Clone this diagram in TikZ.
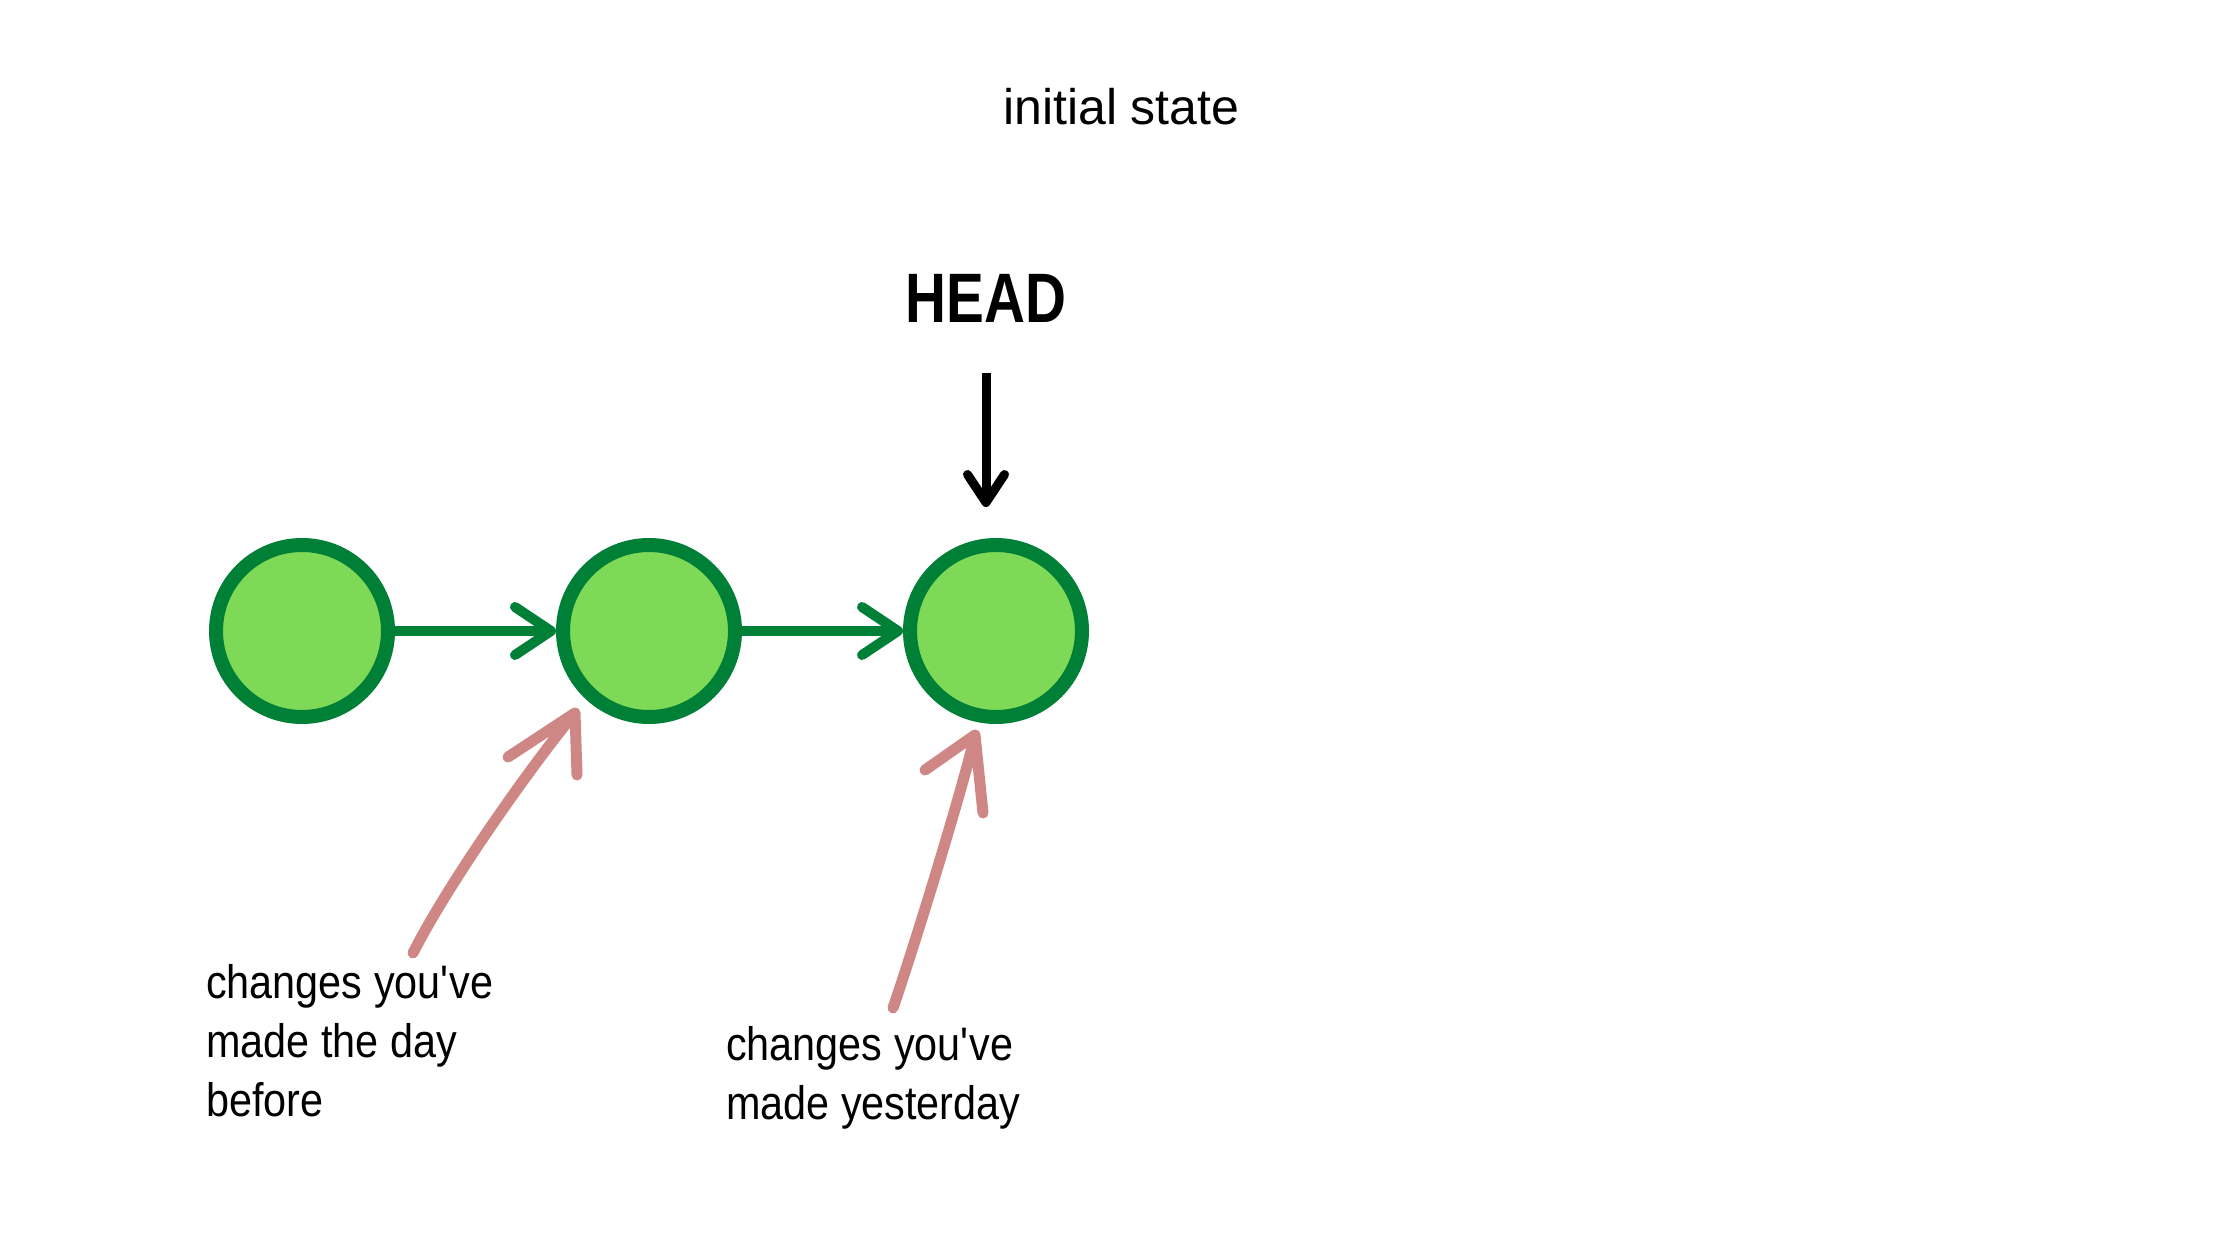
\documentclass[tikz,border=0pt]{standalone}
\usepackage{fontspec}
\setmainfont{Liberation Sans}
\newfontfamily\notefont[FakeStretch=0.88]{Liberation Sans}
\newfontfamily\headfont[FakeStretch=0.81]{Liberation Sans}
\usepackage{tikz}
\usetikzlibrary{arrows.meta}
\usetikzlibrary{positioning}

\definecolor{commitfill}{RGB}{126,217,87}
\definecolor{commitline}{RGB}{0,128,55}
\definecolor{notepink}{RGB}{207,135,134}

\begin{document}
\begin{tikzpicture}[x=1pt,y=-1pt,every node/.style = {inner sep=0pt},
					node distance=161pt]

\tikzstyle{commit} = [circle, draw=commitline, fill=commitfill, line width=14pt, minimum size=172pt, outer sep=7pt]
\tikzstyle{next_arrow} = [draw=commitline, line width=10pt, -{Straight Barb[length=36pt,width=48pt,round]}]
\tikzstyle{head_arrow} = [line width=9pt, -{Straight Barb[length=28pt,width=37pt,round]}]
\tikzstyle{note} = [align=left, anchor=north west, font=\notefont\fontsize{47pt}{59pt}\selectfont]
\tikzstyle{note_arrow} = [draw=notepink, line width=11pt, line cap=round, line join=round]

\useasboundingbox (0,0) rectangle (2240,1260);

\node[anchor=base west, font=\fontsize{50pt}{60pt}\selectfont] (title) at (1003,125) {initial state};

\node[commit] (c1) at (302,631) {};
\node[commit, right=of c1] (c2) {};
\node[commit, right=of c2] (c3) {};

\node[anchor=base, font=\headfont\bfseries\fontsize{70pt}{80pt}\selectfont] (head) at (986,322) {HEAD};

\draw[next_arrow] (c1) -- (c2);
\draw[next_arrow] (c2) -- (c3);
\draw[head_arrow, shorten <=51pt, shorten >=31pt] (head.south) -- (head.south |- c3.north);

\node[note] (before) at (206,964) {changes you\textquotesingle ve\\made the day\\before};
\node[note] (yesterday) at (726,1026) {changes you\textquotesingle ve\\made yesterday};

% hand drawn pointers
\coordinate (tail1) at ([shift={(207,-11)}]before.north west);
\coordinate (tip1) at ([shift={(-74,82)}]c2.center);
\coordinate (tail2) at ([shift={(167,-18)}]yesterday.north west);
\coordinate (tip2) at ([shift={(-21,104)}]c3.center);

\draw[note_arrow] (tail1) .. controls +(37,-73) and +(-40,48) .. (tip1) -- +(-67,44) (tip1) -- +(2,62);
\draw[note_arrow] (tail2) .. controls +(25,-73) and +(-10,45) .. (tip2) -- +(-50,35) (tip2) -- +(8,78);
\end{tikzpicture}
\end{document}
